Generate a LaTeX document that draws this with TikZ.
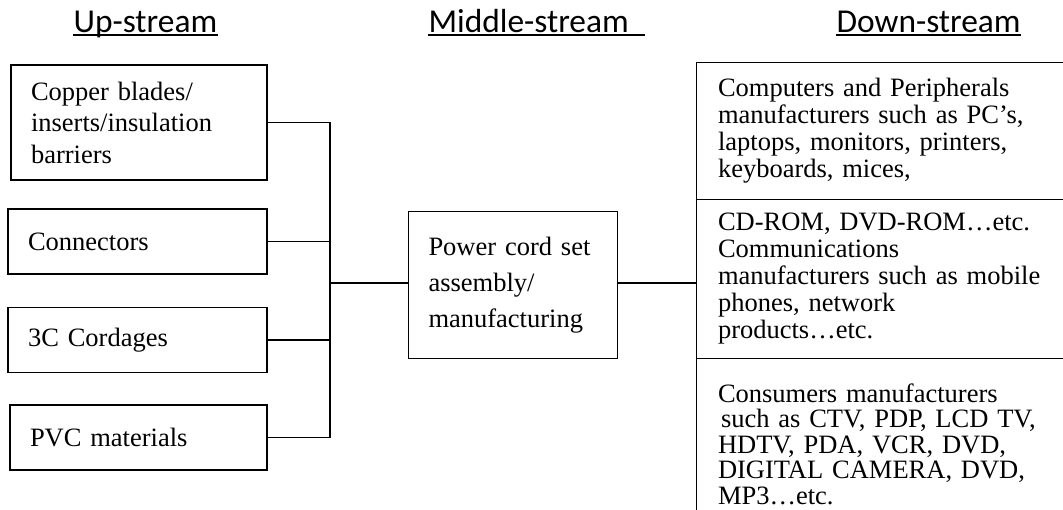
\documentclass[tikz,border=0pt]{standalone}
\usepackage{fontspec}
\setmainfont{Liberation Serif}
\newfontfamily\headfont{Carlito}
\begin{document}
\begin{tikzpicture}[x=1pt,y=-1pt,line width=1.2pt,
  box/.style={draw,rectangle,inner xsep=20pt,inner ysep=0pt,align=left,
    font=\fontsize{26.5}{31.5}\selectfont},
  midbox/.style={box,font=\fontsize{26.5}{36}\selectfont},
  cell/.style={rectangle,inner xsep=21pt,inner ysep=0pt,align=left,
    text width=324pt,minimum width=366pt,font=\fontsize{26.5}{27}\selectfont},
  head/.style={anchor=base west,inner sep=0pt,font=\headfont\fontsize{33.4}{40}\selectfont},
  uline/.style={line width=1.3pt}]
\useasboundingbox (0,0) rectangle (1063,510);

% column headings
\node[head] (h1) at (73,33) {Up-stream};
\node[head] (h2) at (428,33) {Middle-stream};
\node[head] (h3) at (836,33) {Down-stream};
\draw[uline] ([yshift=-2pt]h1.base west) -- ([yshift=-2pt]h1.base east);
\draw[uline] ([yshift=-2pt]h2.base west) -- ([xshift=16pt,yshift=-2pt]h2.base east);
\draw[uline] ([yshift=-2pt]h3.base west) -- ([yshift=-2pt]h3.base east);

% suppliers
\node[box,text width=216pt,minimum height=115pt] (u1) at (139,122.5)
  {Copper blades/\\inserts/insulation\\barriers};
\node[box,text width=219pt,minimum height=65pt] (u2) at (137.5,241.5) {Connectors};
\node[box,text width=219pt,minimum height=65pt] (u3) at (137.5,340) {3C Cordages};
\node[box,text width=217pt,minimum height=65pt] (u4) at (138.5,437.5) {PVC materials};

% assembly
\node[midbox,text width=169pt,minimum height=147pt] (m) at (513,285)
  {Power cord set\\assembly/\\manufacturing};

% customers
\node[cell,minimum height=136pt] (d1) at (880,131)
  {Computers and Peripherals\\manufacturers such as PC’s,\\laptops, monitors, printers,\\keyboards, mices,};
\node[cell,minimum height=159pt] (d2) at (880,278.5)
  {CD-ROM, DVD-ROM…etc.\\Communications\\manufacturers such as mobile\\phones, network\\products…etc.};
\node[cell,minimum height=172pt,font=\fontsize{26.5}{25.5}\selectfont] (d3) at (880,444)
  {Consumers manufacturers\\\hspace*{3pt}such as CTV, PDP, LCD TV,\\HDTV, PDA, VCR, DVD,\\DIGITAL CAMERA, DVD,\\MP3…etc.};
\draw (d1.north east) -- (d1.north west) -- (d3.south west);
\draw (d1.south west) -- (d1.south east);
\draw (d2.south west) -- (d2.south east);

% connectors
\coordinate (bus) at (330,283);
\draw (u1.east) -- (u1.east -| bus);
\draw (u2.east) -- (u2.east -| bus);
\draw (u3.east) -- (u3.east -| bus);
\draw (u4.east) -- (u4.east -| bus);
\draw (u1.east -| bus) -- (u4.east -| bus);
\draw (bus) -- (bus -| m.west);
\draw (bus -| m.east) -- (bus -| d2.west);
\end{tikzpicture}
\end{document}
